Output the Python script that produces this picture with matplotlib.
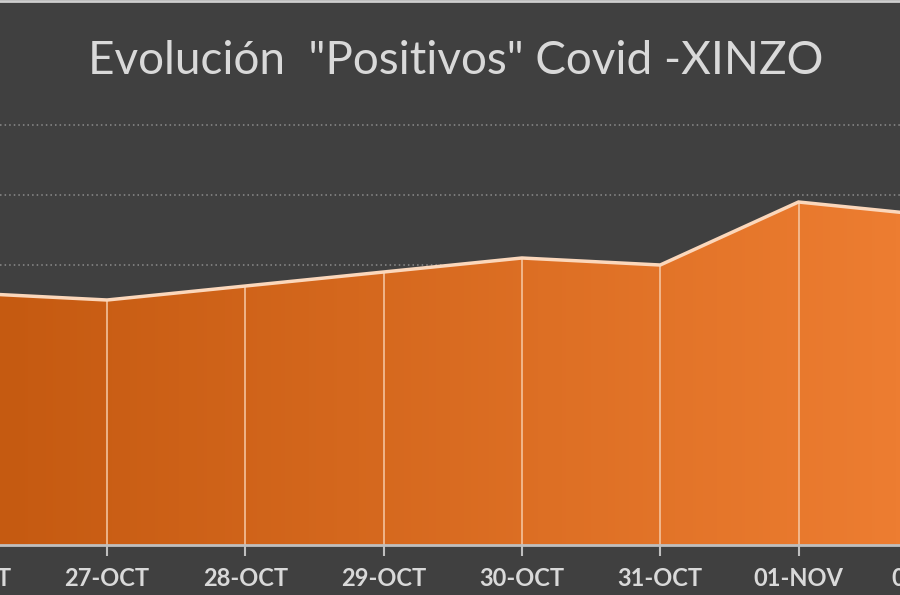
import matplotlib.pyplot as plt
import matplotlib.transforms as mtransforms
from matplotlib.colors import LinearSegmentedColormap
import numpy as np

#------
#data

fechas = ['26-OCT', '27-OCT', '28-OCT', '29-OCT', '30-OCT', '31-OCT', '01-NOV', '02-NOV']
positivos = [36, 35, 37, 39, 41, 40, 49, 47]
titulo = 'Evolución  "Positivos" Covid -XINZO'

#------
#style
fondo = '#404040'
texto = '#d9d9d9'
gris = '#bfbfbf'

x = np.arange(len(fechas))
y = np.array(positivos)

fig = plt.figure(figsize=(9, 5.95), dpi=100, facecolor=fondo)
ax = fig.add_axes([0, 50/595, 1, 545/595])
ax.set_facecolor(fondo)

x0, x1 = 31.3/138.3, 931.3/138.3
ymax = 545/70*10

#dotted gridlines
for g in range(10, 70, 10):
    ax.axhline(g, color='#8c8c8c', lw=1.1, ls=(0, (1, 2)), zorder=1)

#gradient fill clipped by the area
poly = ax.fill_between(x, y, 0, color='none', zorder=2)
cmap = LinearSegmentedColormap.from_list('nar', ['#c55a11', '#ed7d31'])
grad = np.linspace(0, 1, 256).reshape(1, -1)
img = ax.imshow(grad, cmap=cmap, extent=(x0, x1, 0, ymax), aspect='auto', zorder=2)
img.set_clip_path(poly.get_paths()[0], transform=ax.transData)

#vertical lines inside area
ax.vlines(x, 0, y, color='#f6c9a6', lw=1.3, alpha=0.85, zorder=3)

#top line
ax.plot(x, y, color='#fbd7bb', lw=2.5, zorder=4, solid_joinstyle='miter')

#baseline
ax.axhline(0, color=gris, lw=2, zorder=5, clip_on=False)

#ticks and labels
for s in ax.spines.values():
    s.set_visible(False)
ax.set_yticks([])
ax.set_xticks(x)
ax.tick_params(axis='x', direction='out', length=8, width=1.5, color=gris, labelbottom=False)

#limits last, set_xticks would widen them
ax.set_xlim(x0, x1)
ax.set_ylim(0, ymax)

tr = mtransforms.blended_transform_factory(ax.transData, fig.transFigure)
for i, f in enumerate(fechas):
    ax.text(i, 16/595, f, transform=tr, ha='center', va='center', color=texto,
            fontsize=17, fontweight='bold', family=['Lato', 'DejaVu Sans'])

fig.text(0.506, 1 - 61/595, titulo, ha='center', va='center', color=texto,
         fontsize=33, family=['Lato', 'DejaVu Sans'])

#thin light border at the top
fig.add_artist(plt.Line2D([0, 1], [1 - 1/595, 1 - 1/595], transform=fig.transFigure,
                          color='#cfcfcf', lw=2))

fig.savefig('out.png', dpi=100, facecolor=fondo)
